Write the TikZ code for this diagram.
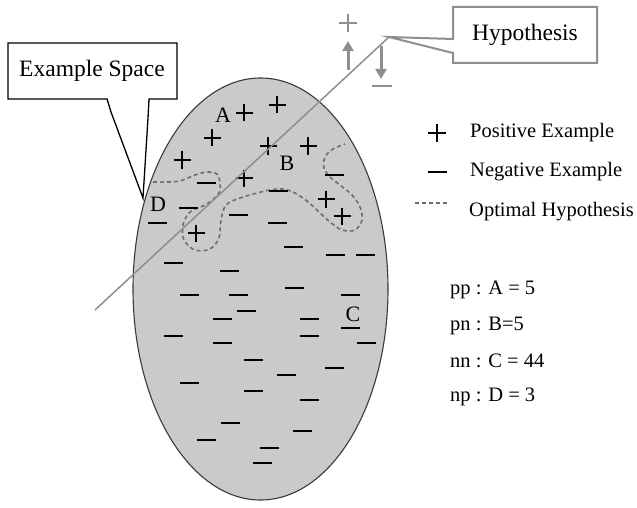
\documentclass[tikz,border=0pt]{standalone}
\usepackage{fontspec}
\setmainfont{Liberation Serif}
\usetikzlibrary{arrows.meta}
\definecolor{spacegray}{HTML}{CACACA}
\definecolor{rimgray}{HTML}{3A3A3A}
\definecolor{hypgray}{HTML}{8E8E8E}
\definecolor{optgray}{HTML}{6E6E6E}

\begin{document}
\begin{tikzpicture}[x=1pt, y=-1pt,
  callout/.style={draw=black, fill=white, line width=1.3pt, line join=miter},
  hypcallout/.style={draw=hypgray, fill=white, line width=2pt, line join=miter},
  txt/.style={inner sep=0pt, font=\fontsize{23.5}{28}\selectfont},
  legtxt/.style={inner sep=0pt, anchor=west, font=\fontsize{20.5}{25}\selectfont},
  region/.style={inner sep=0pt, font=\fontsize{22}{26}\selectfont},
  sign/.style={black, line width=1.3pt},
  graysign/.style={hypgray, line width=2.5pt},
  optimal/.style={optgray, line width=1.6pt, dash pattern=on 4pt off 3pt},
  arr/.style={-{Triangle[length=10pt, width=11pt]}, hypgray, line width=3pt}]
\useasboundingbox (0,0) rectangle (637,508);
\fill[white] (0,0) rectangle (637,508);
\draw[rimgray, line width=1.1pt, fill=spacegray] (260.5,289) ellipse [x radius=127.5, y radius=211];
\draw[optimal] plot[smooth, tension=0.55] coordinates {(153,182) (167,182) (180,181) (195,175) (207,172) (217,174) (220,183) (219,193) (207,204) (190,212) (183,225) (184,240) (195,250) (210,249) (219,238) (221,220) (226,205) (240,198) (257,193) (270,190) (283,189) (295,193) (307,201) (318,211) (330,222) (342,230) (355,230) (362,220) (360,207) (352,195) (340,185) (330,177) (324,168) (325,157) (333,149) (345,144)};
\foreach \x/\y in {244/113, 277/105, 212/138, 268/146, 308/146, 182/160, 244/178, 326/199, 342/216, 196/233}
  \draw[sign] (\x,\y) +(-8.5,0) -- +(8.5,0) +(0,-8.5) -- +(0,8.5);
\foreach \x/\y in {206/183, 334/175, 278/191, 188/208, 238/215, 157/223, 277/223, 293/247, 335/255, 365/255,
                   173/263, 229/271, 294/288, 189/295, 238/295, 350/295, 246/311, 222/319, 309/319, 350/328,
                   173/336, 309/336, 222/343, 366/343, 253/360, 334/368, 189/383, 286/375, 253/391, 309/400,
                   230/423, 302/431, 206/440, 269/448, 262/463}
  \draw[sign] (\x,\y) +(-9.5,0) -- +(9.5,0);
\node[region] (A) at (223,115) {A};
\node[region] (B) at (287,163) {B};
\node[region] (C) at (353,314) {C};
\node[region] (D) at (158,204) {D};
\coordinate (hlo) at (95,310);
\coordinate (htip) at (389,37);
\draw[hypgray, line width=1.5pt] (hlo) -- (htip);
\coordinate (upfrom) at (348,70);
\coordinate (upto) at (348,41);
\coordinate (dnfrom) at (381,46);
\coordinate (dnto) at (381,79);
\draw[arr] (upfrom) -- (upto);
\draw[arr] (dnfrom) -- (dnto);
\draw[graysign] (348,23) +(-9,0) -- +(9,0) +(0,-9) -- +(0,9);
\draw[graysign] (382,86) +(-10,0) -- +(10,0);
\draw[callout] (8,43) -- (177,43) -- (177,99) -- (149,99) -- (148,118) -- (143,198) -- (111,112) -- (107,99) -- (8,99) -- cycle;
\node[txt] (space) at (92,71) {Example Space};
\draw[hypcallout] (453,7) -- (597,7) -- (597,63) -- (453,63) -- (453,53) -- (htip) -- (453,39) -- cycle;
\node[txt] (hyp) at (525,35) {Hypothesis};
\draw[sign] (437,133) +(-9,0) -- +(9,0) +(0,-9) -- +(0,9);
\node[legtxt] (pos) at (470,133) {Positive Example};
\draw[sign] (437,172) +(-9.5,0) -- +(9.5,0);
\node[legtxt] (neg) at (470,172) {Negative Example};
\draw[optimal, line width=1.2pt] (415,203) -- (447,203);
\node[legtxt] (opt) at (469,212) {Optimal Hypothesis};
\node[legtxt] (pp) at (450,290) {pp : A = 5};
\node[legtxt] (pn) at (450,326) {pn : B=5};
\node[legtxt] (nn) at (450,361) {nn : C = 44};
\node[legtxt] (np) at (450,397) {np : D = 3};
\end{tikzpicture}
\end{document}
